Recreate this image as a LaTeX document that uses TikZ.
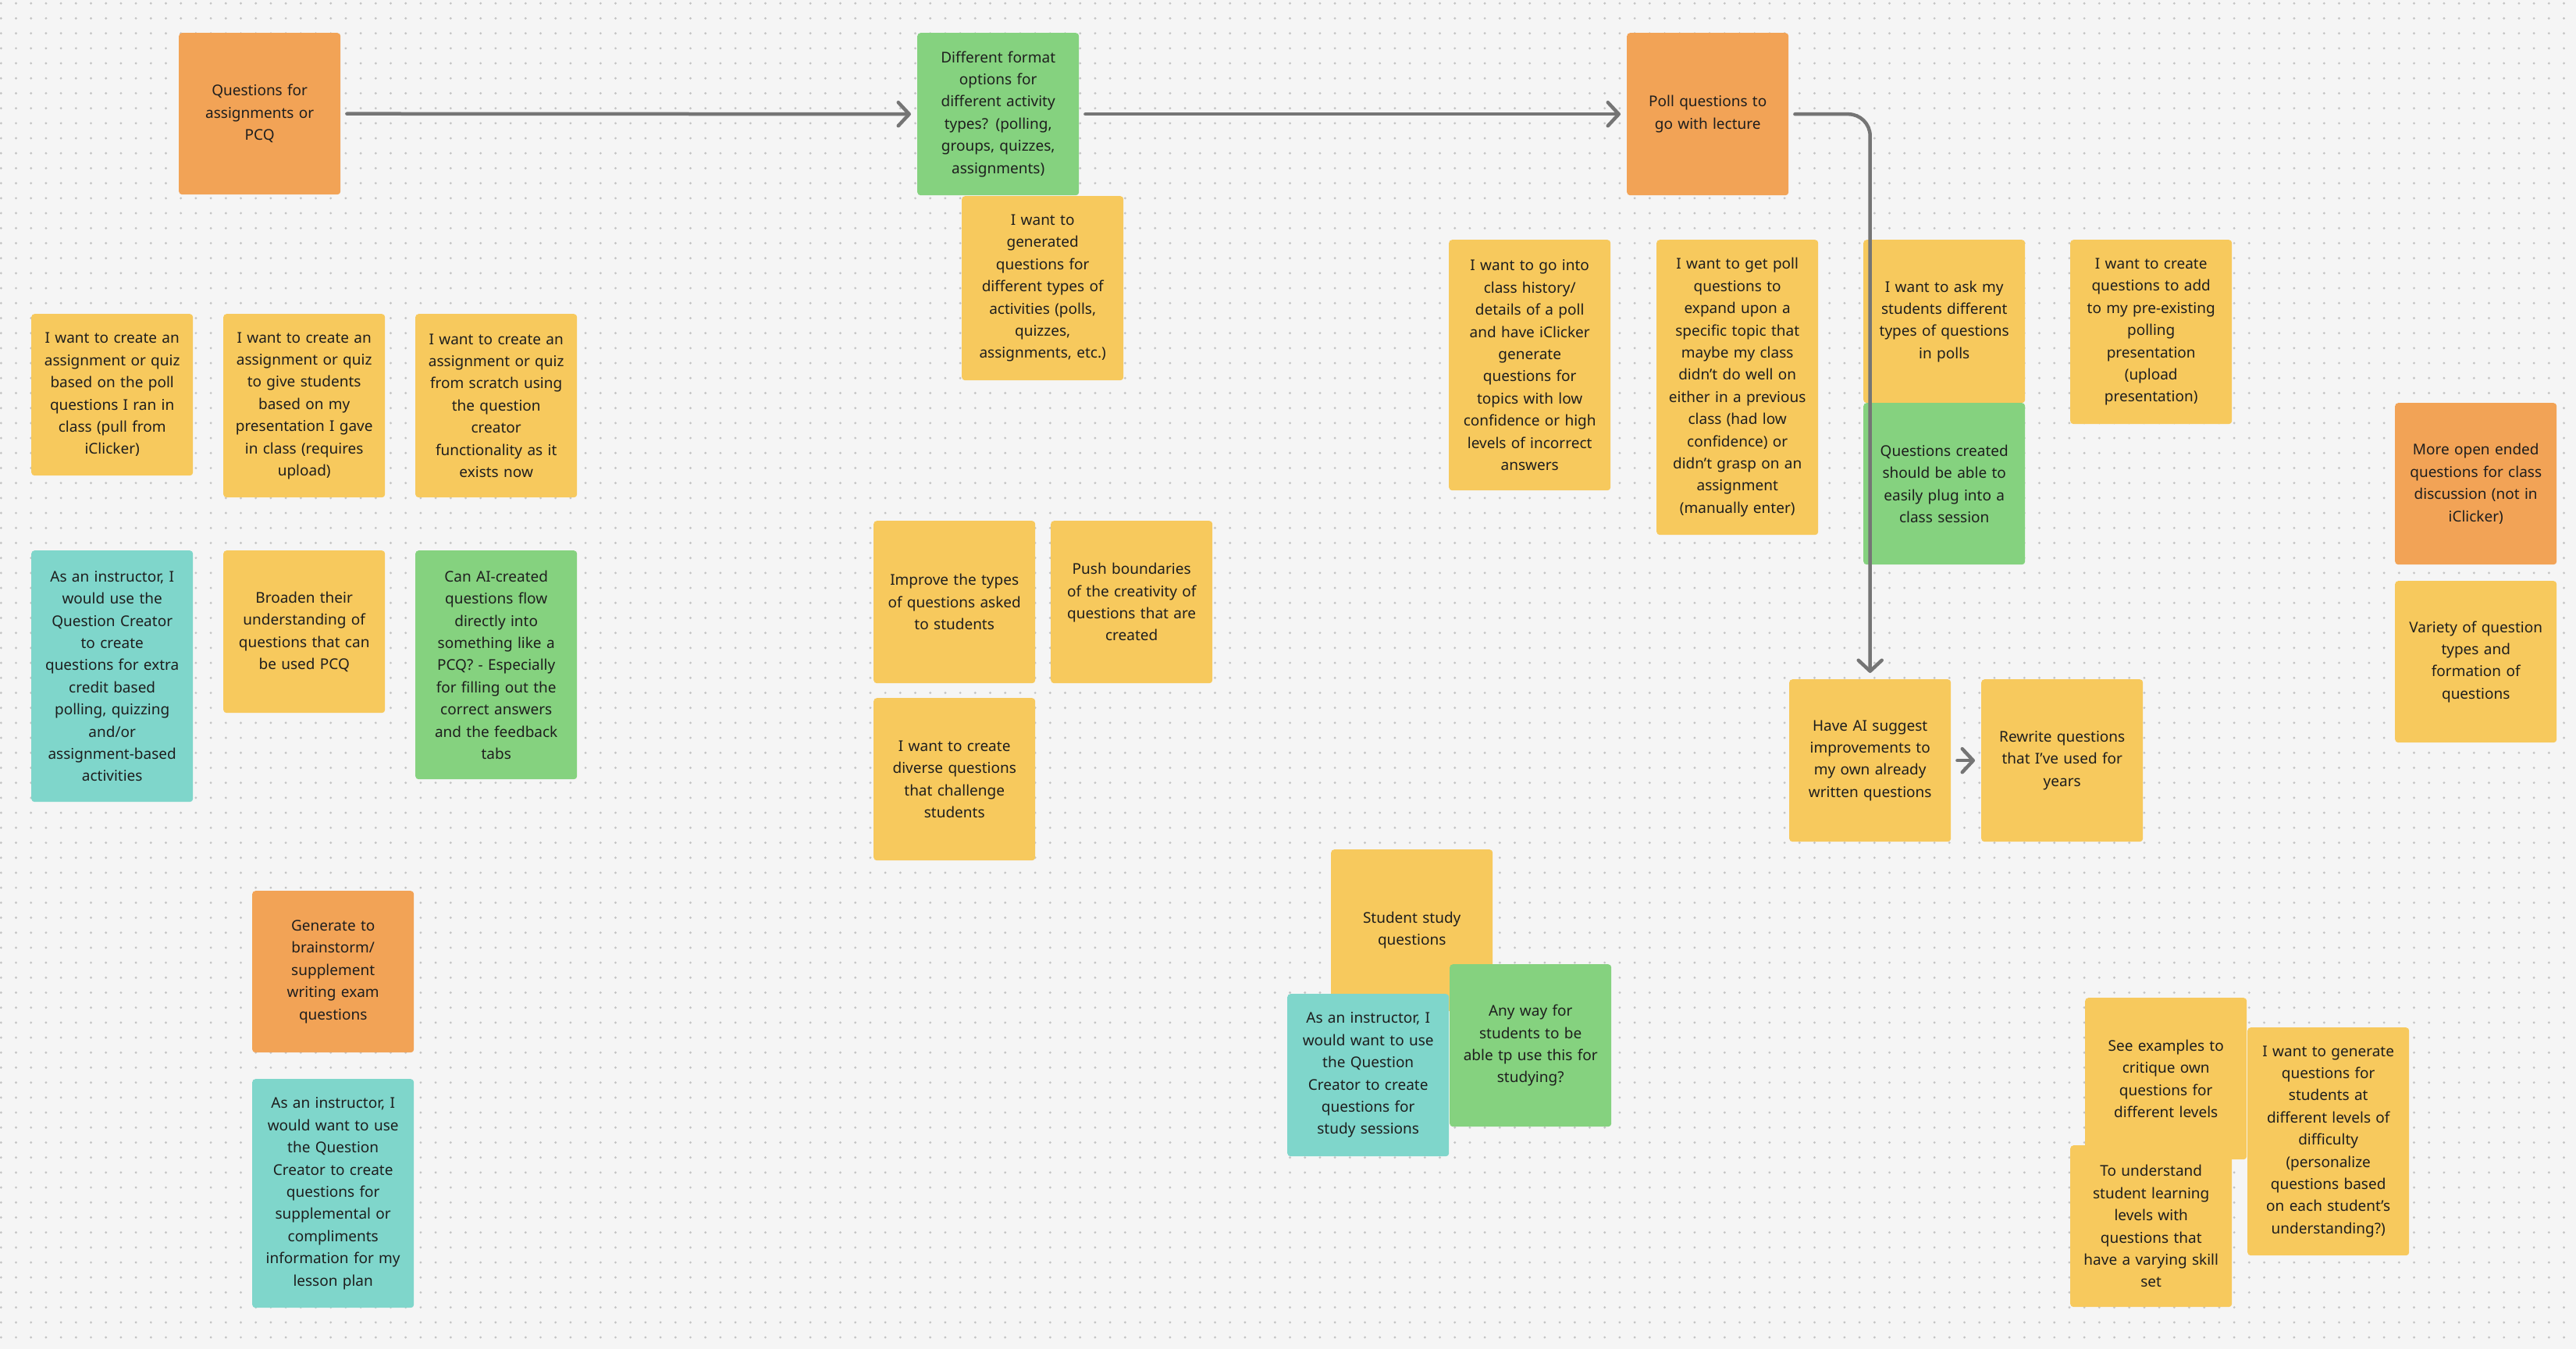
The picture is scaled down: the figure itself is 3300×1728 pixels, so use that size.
\documentclass[tikz,border=0pt]{standalone}
\usepackage{fontspec}
\setmainfont{Noto Sans}
\usetikzlibrary{arrows.meta}
\definecolor{bg}{HTML}{F5F5F5}
\definecolor{dotc}{HTML}{C4C4C4}
\definecolor{syellow}{HTML}{F7C95D}
\definecolor{sorange}{HTML}{F2A356}
\definecolor{sgreen}{HTML}{85D27F}
\definecolor{steal}{HTML}{7FD6CB}
\definecolor{ink}{HTML}{1E1E1E}
\definecolor{conn}{HTML}{757575}
\tikzset{
  sticky/.style={rectangle, rounded corners=4pt, inner sep=0pt, minimum width=207pt,
    text width=200pt, align=center, text=ink, anchor=north west,
    font=\fontsize{19}{28.4}\selectfont},
  yel/.style={sticky, fill=syellow},
  orn/.style={sticky, fill=sorange},
  grn/.style={sticky, fill=sgreen},
  tea/.style={sticky, fill=steal},
  dotrow/.style={draw=dotc, line width=3.2pt, line cap=round, dash pattern=on 0pt off 19.2pt},
  link/.style={draw=conn, line width=4.5pt, line cap=round, line join=round,
    -{Straight Barb[length=14pt,width=30pt,round]}, shorten <=8pt, shorten >=8pt}
}
\begin{document}
\begin{tikzpicture}[x=1pt,y=-1pt]
\useasboundingbox (0,0) rectangle (3300,1728);
\fill[bg] (0,0) rectangle (3300,1728);
\foreach \j in {0,...,89} {
  \path[dotrow] (1.3, 4.3+\j*19.2) -- (3300, 4.3+\j*19.2);
}

% top row
\node[orn, minimum height=207pt] (q1) at (229,42) {Questions for\\assignments or\\PCQ};
\node[grn, minimum height=208pt] (fmt) at (1175,42) {Different format\\options for\\different activity\\types? (polling,\\groups, quizzes,\\assignments)};
\node[orn, minimum height=208pt] (poll) at (2084,42) {Poll questions to\\go with lecture};
\node[yel, minimum height=236pt] (gen) at (1232,251) {I want to\\generated\\questions for\\different types of\\activities (polls,\\quizzes,\\assignments, etc.)};

% left block
\node[yel, minimum height=207pt] (a1) at (40,402) {I want to create an\\assignment or quiz\\based on the poll\\questions I ran in\\class (pull from\\iClicker)};
\node[yel, minimum height=235pt] (a2) at (286,402) {I want to create an\\assignment or quiz\\to give students\\based on my\\presentation I gave\\in class (requires\\upload)};
\node[yel, minimum height=235pt] (a3) at (532,402) {I want to create an\\assignment or quiz\\from scratch using\\the question\\creator\\functionality as it\\exists now};
\node[tea, minimum height=322pt] (t1) at (40,705) {As an instructor, I\\would use the\\Question Creator\\to create\\questions for extra\\credit based\\polling, quizzing\\and/or\\assignment-based\\activities};
\node[yel, minimum height=208pt] (br) at (286,705) {Broaden their\\understanding of\\questions that can\\be used PCQ};
\node[grn, minimum height=293pt] (ai) at (532,705) {Can AI-created\\questions flow\\directly into\\something like a\\PCQ? - Especially\\for filling out the\\correct answers\\and the feedback\\tabs};
\node[orn, minimum height=207pt] (gb) at (323,1141) {Generate to\\brainstorm/\\supplement\\writing exam\\questions};
\node[tea, minimum height=293pt] (t2) at (323,1382) {As an instructor, I\\would want to use\\the Question\\Creator to create\\questions for\\supplemental or\\compliments\\information for my\\lesson plan};

% middle block
\node[yel, minimum height=208pt] (im) at (1119,667) {Improve the types\\of questions asked\\to students};
\node[yel, minimum height=208pt] (pu) at (1346,667) {Push boundaries\\of the creativity of\\questions that are\\created};
\node[yel, minimum height=208pt] (dv) at (1119,894) {I want to create\\diverse questions\\that challenge\\students};
\node[yel, minimum height=207pt] (ss) at (1705,1088) {Student study\\questions};
\node[tea, minimum height=208pt] (t3) at (1649,1273) {As an instructor, I\\would want to use\\the Question\\Creator to create\\questions for\\study sessions};
\node[grn, minimum height=208pt] (any) at (1857,1235) {Any way for\\students to be\\able tp use this for\\studying?};

% right block
\node[yel, minimum height=321pt] (ch) at (1856,307) {I want to go into\\class history/\\details of a poll\\and have iClicker\\generate\\questions for\\topics with low\\confidence or high\\levels of incorrect\\answers};
\node[yel, minimum height=378pt] (gp) at (2122,307) {I want to get poll\\questions to\\expand upon a\\specific topic that\\maybe my class\\didn’t do well on\\either in a previous\\class (had low\\confidence) or\\didn’t grasp on an\\assignment\\(manually enter)};
\node[yel, minimum height=209pt] (ask) at (2387,307) {I want to ask my\\students different\\types of questions\\in polls};
\node[grn, minimum height=207pt] (qc) at (2387,516) {Questions created\\should be able to\\easily plug into a\\class session};
\node[yel, minimum height=236pt] (pre) at (2652,307) {I want to create\\questions to add\\to my pre-existing\\polling\\presentation\\(upload\\presentation)};
\node[orn, minimum height=207pt] (open) at (3068,516) {More open ended\\questions for class\\discussion (not in\\iClicker)};
\node[yel, minimum height=207pt] (var) at (3068,744) {Variety of question\\types and\\formation of\\questions};
\node[yel, minimum height=208pt] (have) at (2292,870) {Have AI suggest\\improvements to\\my own already\\written questions};
\node[yel, minimum height=208pt] (rw) at (2538,870) {Rewrite questions\\that I’ve used for\\years};
\node[yel, minimum height=207pt] (se) at (2671,1278) {See examples to\\critique own\\questions for\\different levels};
\node[yel, minimum height=207pt] (tu) at (2652,1467) {To understand\\student learning\\levels with\\questions that\\have a varying skill\\set};
\node[yel, minimum height=292pt] (ig) at (2879,1316) {I want to generate\\questions for\\students at\\different levels of\\difficulty\\(personalize\\questions based\\on each student’s\\understanding?)};

% connectors
\draw[link] (q1.east) -- (fmt.west);
\draw[link] (fmt.east) -- (poll.west);
\draw[link, rounded corners=28pt] (poll.east) -| (have.north);
\draw[link] (have.east) -- (rw.west);
\end{tikzpicture}
\end{document}
